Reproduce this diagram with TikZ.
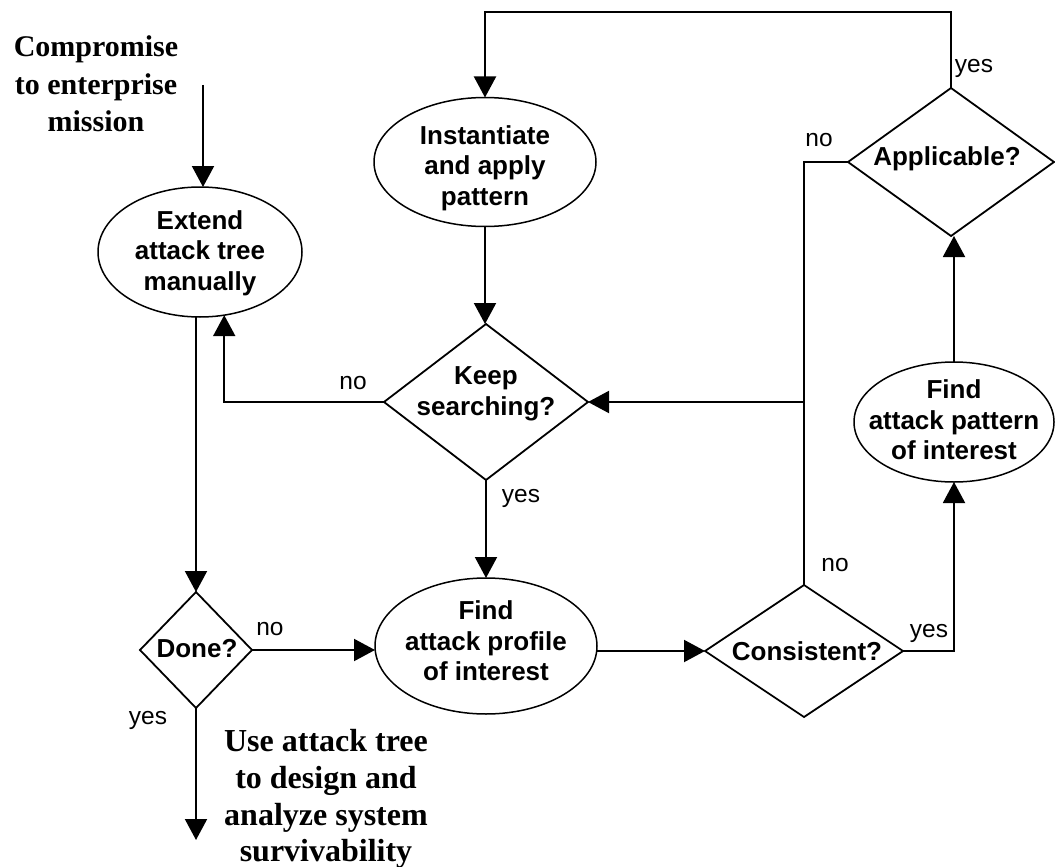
\documentclass[tikz,border=0pt]{standalone}
\usepackage{fontspec}
\setmainfont{Liberation Serif}
\setsansfont{Liberation Sans}
\usetikzlibrary{shapes.geometric,arrows.meta}
\begin{document}
\begin{tikzpicture}[x=1pt,y=-1pt,
  conn/.style={line width=2pt},
  arr/.style={conn,-{Triangle[length=21pt,width=22pt]}},
  ell/.style={draw,ellipse,line width=1.5pt,inner sep=0pt,outer sep=0pt},
  dia/.style={draw,diamond,line width=1.8pt,inner sep=0pt,outer sep=0pt},
  btxt/.style={font=\sffamily\bfseries\fontsize{26}{30.5}\selectfont,align=center,inner sep=0pt},
  lbl/.style={font=\sffamily\fontsize{24.5}{28}\selectfont,inner sep=0pt},
  stxt/.style={font=\rmfamily\bfseries\fontsize{30}{37.5}\selectfont,align=center,inner sep=0pt},
  utxt/.style={font=\rmfamily\bfseries\fontsize{32}{36.7}\selectfont,align=center,inner sep=0pt}]
\useasboundingbox (0,0) rectangle (1055,867);

% shapes
\node[ell,minimum width=204pt,minimum height=130pt] (ext) at (200,252) {};
\node[btxt] (ext-t) at (200,253) {Extend\\attack tree\\manually};
\node[ell,minimum width=222pt,minimum height=129pt] (inst) at (485,162) {};
\node[btxt] (inst-t) at (485,168) {Instantiate\\and apply\\pattern};
\node[ell,minimum width=222pt,minimum height=136pt] (prof) at (486,646) {};
\node[btxt] (prof-t) at (486,641) {Find\\attack profile\\of interest};
\node[ell,minimum width=200pt,minimum height=120pt] (pat) at (954,422) {};
\node[btxt] (pat-t) at (954,420) {Find\\attack pattern\\of interest};
\node[dia,minimum width=204pt,minimum height=156pt] (keep) at (486,402) {};
\node[btxt] (keep-t) at (486,394) {Keep\\searching?};
\node[dia,minimum width=112pt,minimum height=116pt] (done) at (196,650) {};
\node[btxt] (done-t) at (197,649) {Done?};
\node[dia,minimum width=198pt,minimum height=132pt] (cons) at (804,651) {};
\node[btxt] (cons-t) at (807,651) {Consistent?};
\node[dia,minimum width=206pt,minimum height=148pt] (app) at (951,162) {};
\node[btxt] (app-t) at (947,159) {Applicable?};

% free texts
\node[stxt] (src) at (96,84) {Compromise\\to enterprise\\mission};
\node[utxt] (use) at (326,799) {Use attack tree\\to design and\\analyze system\\survivability};

% free end points
\coordinate (srcarr) at (203,85);
\coordinate (endpt) at (196,840);
\coordinate (topy) at (0,12);

% connectors
\draw[arr] (srcarr) -- (srcarr |- ext.north);
\draw[arr] (ext.south -| done.north) -- (done.north);
\draw[arr] (keep.west) -| (ext.-69);
\draw[arr] (inst.south) -- (inst.south |- keep.north);
\draw[arr] (keep.south) -- (prof.north);
\draw[arr] (done.east) -- (done.east -| prof.west);
\draw[arr] (prof.east |- cons.west) -- (cons.west);
\draw[arr] (cons.east) -| (pat.south);
\draw[arr] (pat.north) -- (pat.north |- app.south);
\draw[conn] (app.west) -| (cons.north |- keep.east);
\draw[arr] (cons.north) |- (keep.east);
\draw[arr] (app.north) -- (app.north |- topy) -| (inst.north);
\draw[arr] (done.south) -- (endpt);

% labels
\node[lbl] (l1) at (353,383) {no};
\node[lbl] (l2) at (521,498) {yes};
\node[lbl] (l3) at (270,629) {no};
\node[lbl] (l4) at (148,720) {yes};
\node[lbl] (l5) at (835,565) {no};
\node[lbl] (l6) at (929,633) {yes};
\node[lbl] (l7) at (819,140) {no};
\node[lbl] (l8) at (974,68) {yes};
\end{tikzpicture}
\end{document}
